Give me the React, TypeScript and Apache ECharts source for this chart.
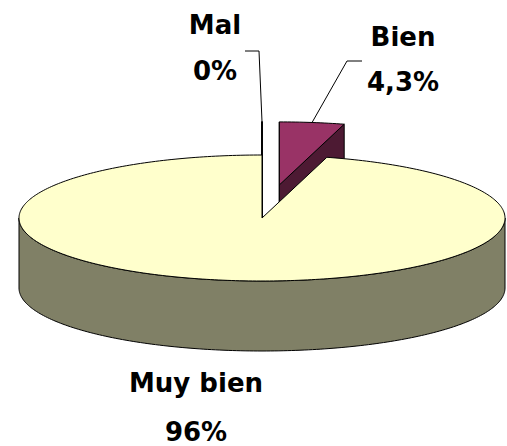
import React, { useEffect, useRef } from "react";
import * as echarts from "echarts";

// ---- data ----
const categories: string[] = ["Mal", "Bien", "Muy bien"];
const values: number[] = [0, 4.3, 95.7];
const percentLabels: string[] = ["0%", "4,3%", "96%"];

// ---- styles / layout ----
const TOP_COLORS: Record<string, string> = { Mal: "#FFFFFF", Bien: "#993366", "Muy bien": "#FFFFCC" };
const SIDE_COLORS: Record<string, string> = { Mal: "#FFFFFF", Bien: "#4D1A33", "Muy bien": "#808066" };
const EXPLODE: Record<string, number> = { Mal: 0.53, Bien: 0.53, "Muy bien": 0 };
const PIE = { cx: 262, cy: 218, rx: 243, ry: 63, depth: 70 };
const LABEL_LAYOUT: Record<string, { x: number; y1: number; y2: number; elbow: number[][] | null }> = {
  Mal: { x: 215, y1: 25, y2: 71, elbow: [[259, 51], [245, 51]] },
  Bien: { x: 403, y1: 37, y2: 82, elbow: [[347, 61], [362, 61]] },
  "Muy bien": { x: 196, y1: 383, y2: 432, elbow: null },
};
const FONT = 'bold 26px "DejaVu Sans", sans-serif';

const total = values.reduce((a, b) => a + b, 0);

function sliceAngles(i: number) {
  let before = 0;
  for (let k = 0; k < i; k++) before += values[k];
  const start = Math.PI / 2 - (before / total) * Math.PI * 2; // clockwise from 12 o'clock
  const end = start - (values[i] / total) * Math.PI * 2;
  return { a0: start, a1: end };
}

function renderItem(params: any, api: any) {
  const i = params.dataIndex;
  const name = categories[i];
  const { a0, a1 } = sliceAngles(i);
  const mid = (a0 + a1) / 2;
  const e = EXPLODE[name] || 0;
  const cx = PIE.cx + e * Math.cos(mid) * PIE.rx;
  const cy = PIE.cy - e * Math.sin(mid) * PIE.ry;
  const d = PIE.depth;
  const pt = (t: number, dz = 0) => [cx + PIE.rx * Math.cos(t), cy - PIE.ry * Math.sin(t) + dz];
  const arc = (hi: number, lo: number, dz = 0) => {
    const n = Math.max(1, Math.ceil(((hi - lo) * 180) / Math.PI));
    const pts: number[][] = [];
    for (let k = 0; k <= n; k++) pts.push(pt(hi - ((hi - lo) * k) / n, dz));
    return pts;
  };
  const children: any[] = [];
  const line = { stroke: "#000", lineWidth: 1 };

  // radial faces
  const faces = [
    { phi: a0, normal: a0 + Math.PI / 2 },
    { phi: a1, normal: a1 - Math.PI / 2 },
  ];
  faces.forEach((f) => {
    if (Math.sin(f.normal) < 1e-6) {
      const r = pt(f.phi);
      children.push({
        type: "polygon",
        shape: { points: [[cx, cy], r, [r[0], r[1] + d], [cx, cy + d]] },
        style: { fill: SIDE_COLORS[name], ...line },
      });
    }
  });

  // outer side (front-facing part)
  for (let k = -2; k <= 1; k++) {
    const fHi = 2 * Math.PI * k;
    const fLo = -Math.PI + 2 * Math.PI * k;
    const hi = Math.min(a0, fHi);
    const lo = Math.max(a1, fLo);
    if (hi > lo) {
      const top = arc(hi, lo);
      const bot = arc(hi, lo, d).reverse();
      children.push({
        type: "polygon",
        shape: { points: top.concat(bot) },
        style: { fill: SIDE_COLORS[name], ...line },
      });
    }
  }

  // top face
  const topPts = [[cx, cy]].concat(arc(a0, a1));
  children.push({
    type: "polygon",
    shape: { points: topPts },
    style: { fill: TOP_COLORS[name], ...line },
  });

  // label + leader
  const lay = LABEL_LAYOUT[name];
  if (lay) {
    if (lay.elbow) {
      const anchor = pt(mid);
      children.push({
        type: "polyline",
        shape: { points: [anchor].concat(lay.elbow) },
        style: { fill: null, ...line },
      });
    }
    children.push({
      type: "text",
      style: { text: name, x: lay.x, y: lay.y1, font: FONT, fill: "#000", align: "center", verticalAlign: "middle" },
    });
    children.push({
      type: "text",
      style: { text: percentLabels[i], x: lay.x, y: lay.y2, font: FONT, fill: "#000", align: "center", verticalAlign: "middle" },
    });
  }
  return { type: "group", children };
}

export default function App() {
  const ref = useRef<HTMLDivElement>(null);
  useEffect(() => {
    document.body.style.margin = "0";
    const chart = echarts.init(ref.current!, undefined, { renderer: "svg" });
    chart.setOption({
      animation: false,
      backgroundColor: "#FFFFFF",
      series: [
        {
          type: "custom",
          coordinateSystem: "none",
          renderItem,
          data: values.map((v, i) => ({ name: categories[i], value: v })),
        },
      ],
    });
    return () => chart.dispose();
  }, []);
  return <div ref={ref} style={{ width: 507, height: 446 }} />;
}
